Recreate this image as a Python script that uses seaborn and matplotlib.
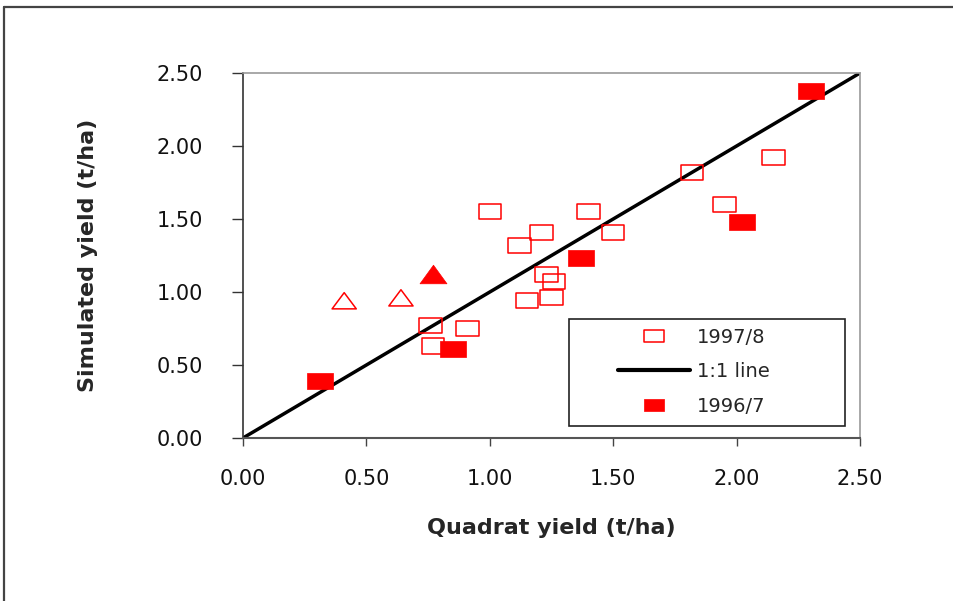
import matplotlib
matplotlib.use("Agg")
import matplotlib.pyplot as plt
from matplotlib.path import Path
from matplotlib.lines import Line2D
from matplotlib.patches import Rectangle
import seaborn as sns
import numpy as np

# ---- data ----
x_9798 = [1.00, 1.40, 1.21, 1.12, 1.50, 1.82, 2.15, 1.95, 1.23, 1.26, 1.15, 1.25, 0.76, 0.91, 0.77]
y_9798 = [1.55, 1.55, 1.41, 1.32, 1.41, 1.82, 1.92, 1.60, 1.12, 1.07, 0.94, 0.96, 0.77, 0.75, 0.63]
x_9697 = [0.31, 0.85, 1.37, 2.02, 2.30]
y_9697 = [0.39, 0.61, 1.23, 1.48, 2.38]
x_tri_open = [0.41, 0.64]
y_tri_open = [0.94, 0.96]
x_tri_fill = [0.77]
y_tri_fill = [1.12]
line_x = [0.0, 2.5]
line_y = [0.0, 2.5]
ticks = [0.0, 0.5, 1.0, 1.5, 2.0, 2.5]
tick_labels = ["0.00", "0.50", "1.00", "1.50", "2.00", "2.50"]
legend_labels = ["1997/8", "1:1 line", "1996/7"]

sns.set_theme(style="white")
plt.rcParams['font.family'] = ['DejaVu Sans']

def rect_marker(a):
    return Path([(-1, -a), (1, -a), (1, a), (-1, a), (-1, -a)],
                [Path.MOVETO, Path.LINETO, Path.LINETO, Path.LINETO, Path.CLOSEPOLY])

def tri_marker(a):
    return Path([(0, a), (-1, -a), (1, -a), (0, a)],
                [Path.MOVETO, Path.LINETO, Path.LINETO, Path.CLOSEPOLY])

RED = "#ff0000"
W, H = 954, 601
fig = plt.figure(figsize=(W / 100, H / 100), dpi=100)
fig.patch.set_facecolor("white")
ax = fig.add_axes([243 / W, 1 - 438 / H, 617 / W, 365 / H])

# 1:1 line
sns.lineplot(x=line_x, y=line_y, color="black", linewidth=2.5, ax=ax, zorder=2)

# open squares
sns.scatterplot(x=x_9798, y=y_9798, marker=rect_marker(0.675), s=262,
                color=RED, edgecolor=RED, linewidth=1.1, ax=ax, zorder=3)
ax.collections[-1].set_facecolor("none")
# open triangles
sns.scatterplot(x=x_tri_open, y=y_tri_open, marker=tri_marker(0.67), s=303,
                color=RED, edgecolor=RED, linewidth=1.1, ax=ax, zorder=3)
ax.collections[-1].set_facecolor("none")
# filled squares
sns.scatterplot(x=x_9697, y=y_9697, marker=rect_marker(0.61), s=338,
                color=RED, edgecolor=RED, linewidth=0.5, ax=ax, zorder=4)
# filled triangle
sns.scatterplot(x=x_tri_fill, y=y_tri_fill, marker=tri_marker(0.69), s=376,
                color=RED, edgecolor=RED, linewidth=0.5, ax=ax, zorder=4)

ax.set_xlim(0, 2.5)
ax.set_ylim(0, 2.5)
ax.set_xticks(ticks)
ax.set_xticklabels(tick_labels)
ax.set_yticks(ticks)
ax.set_yticklabels(tick_labels)

for t in ax.get_xticklabels() + ax.get_yticklabels():
    t.set_fontsize(15)
    t.set_color("#111111")

ax.tick_params(axis="x", direction="out", length=6, width=1.0, color="#444444",
               pad=16, bottom=True)
ax.tick_params(axis="y", direction="out", length=8, width=1.0, color="#333333",
               pad=21, left=True)

ax.spines["left"].set_color("#333333")
ax.spines["left"].set_linewidth(1.2)
ax.spines["bottom"].set_color("#555555")
ax.spines["bottom"].set_linewidth(1.5)
for s in ("top", "right"):
    ax.spines[s].set_color("#999999")
    ax.spines[s].set_linewidth(1.2)

ax.set_xlabel("Quadrat yield (t/ha)", fontsize=16, fontweight="bold", labelpad=21)
ax.set_ylabel("Simulated yield (t/ha)", fontsize=16, fontweight="bold", labelpad=42)

# legend
h_open = Line2D([], [], marker=rect_marker(0.6), ls="none", markersize=13.8,
                markerfacecolor="none", markeredgecolor=RED, markeredgewidth=1.1)
h_line = Line2D([], [], color="black", linewidth=3.0)
h_fill = Line2D([], [], marker=rect_marker(0.59), ls="none", markersize=14.9,
                markerfacecolor=RED, markeredgecolor=RED, markeredgewidth=0.5)
leg = ax.legend([h_open, h_line, h_fill], legend_labels, frameon=False,
                loc="center left", bbox_to_anchor=((618 - 243) / 617, (438 - 371.7) / 365),
                borderpad=0, borderaxespad=0, fontsize=14, handlelength=3.7,
                handletextpad=0.36, labelspacing=0.8)
ax.add_patch(Rectangle(((569 - 243) / 617, (438 - 426) / 365), (845 - 569) / 617,
                       (426 - 319) / 365, transform=ax.transAxes, fill=False,
                       edgecolor="#222222", linewidth=1.2, zorder=5))

# outer frame (top and left edges)
fig.add_artist(Line2D([4 / W, 1.0], [1 - 7 / H, 1 - 7 / H], transform=fig.transFigure,
                      color="#444444", linewidth=1.6))
fig.add_artist(Line2D([4 / W, 4 / W], [0.0, 1 - 7 / H], transform=fig.transFigure,
                      color="#444444", linewidth=1.6))

fig.savefig("out.png", dpi=100, facecolor="white")
